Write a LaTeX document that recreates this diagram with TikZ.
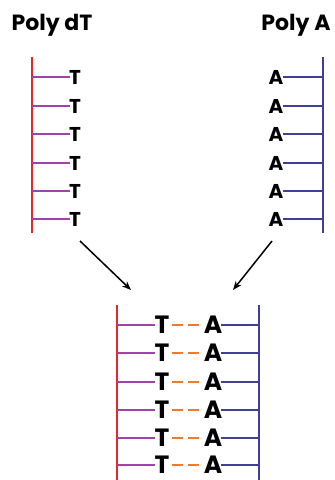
\documentclass[tikz,border=0pt]{standalone}
\usepackage{fontspec}
\setmainfont{Poppins}
\usetikzlibrary{arrows.meta}
\definecolor{strandred}{HTML}{E8252D}
\definecolor{rungpurple}{HTML}{A043A6}
\definecolor{strandblue}{HTML}{3D3F98}
\definecolor{bondorange}{HTML}{F07A2A}
\tikzset{
  title/.style={font=\bfseries\fontsize{22}{22}\selectfont, inner sep=0pt},
  baseS/.style={font=\bfseries\fontsize{20}{20}\selectfont, inner sep=0pt},
  baseL/.style={font=\bfseries\fontsize{25}{25}\selectfont, inner sep=0pt},
  redstrand/.style={strandred, line width=2.6pt},
  bluestrand/.style={strandblue, line width=2.6pt},
  trung/.style={rungpurple, line width=2.8pt},
  arung/.style={strandblue, line width=2.8pt},
  hbond/.style={bondorange, line width=2.8pt, dash pattern=on 11pt off 5pt},
  flow/.style={black, line width=1.5pt, -{Stealth[length=9pt,width=7pt]}}
}
\begin{document}
\begin{tikzpicture}[x=1pt,y=-1pt]
\useasboundingbox[fill=white] (0,0) rectangle (335,480);

% titles
\node[title] (tdT) at (52,25) {Poly dT};
\node[title] (tA) at (296,25) {Poly A};

% single strands
\coordinate (Ltop) at (32,57);
\coordinate (Lbot) at (32,233);
\coordinate (Rtop) at (323,57);
\coordinate (Rbot) at (323,233);
\draw[redstrand] (Ltop) -- (Lbot);
\draw[bluestrand] (Rtop) -- (Rbot);

\foreach \i/\y in {1/77,2/106,3/134,4/163,5/191,6/219}{
  \coordinate (lr\i) at (32,\y);
  \node[baseS] (t\i) at (75,\y) {T};
  \draw[trung] (lr\i) -- ([xshift=1pt]t\i.west);
  \coordinate (rr\i) at (323,\y);
  \node[baseS] (a\i) at (276,\y) {A};
  \draw[arung] ([xshift=-1pt]a\i.east) -- (rr\i);
}

% arrows toward the paired duplex
\coordinate (arL0) at (80,241);
\coordinate (arL1) at (131,290);
\coordinate (arR0) at (272,241);
\coordinate (arR1) at (233,290);
\draw[flow] (arL0) -- (arL1);
\draw[flow] (arR0) -- (arR1);

% duplex
\coordinate (Dltop) at (117,305);
\coordinate (Dlbot) at (117,480);
\coordinate (Drtop) at (259,305);
\coordinate (Drbot) at (259,480);
\draw[redstrand] (Dltop) -- (Dlbot);
\draw[bluestrand] (Drtop) -- (Drbot);

\foreach \i/\y in {1/325,2/353,3/382,4/410,5/438,6/465}{
  \coordinate (dl\i) at (117,\y);
  \node[baseL] (dt\i) at (162,\y) {T};
  \node[baseL] (da\i) at (213,\y) {A};
  \coordinate (dr\i) at (259,\y);
  \draw[trung] (dl\i) -- ([xshift=1pt]dt\i.west);
  \draw[hbond] ([xshift=2pt]dt\i.east) -- ([xshift=-2pt]da\i.west);
  \draw[arung] ([xshift=-1pt]da\i.east) -- (dr\i);
}
\end{tikzpicture}
\end{document}
